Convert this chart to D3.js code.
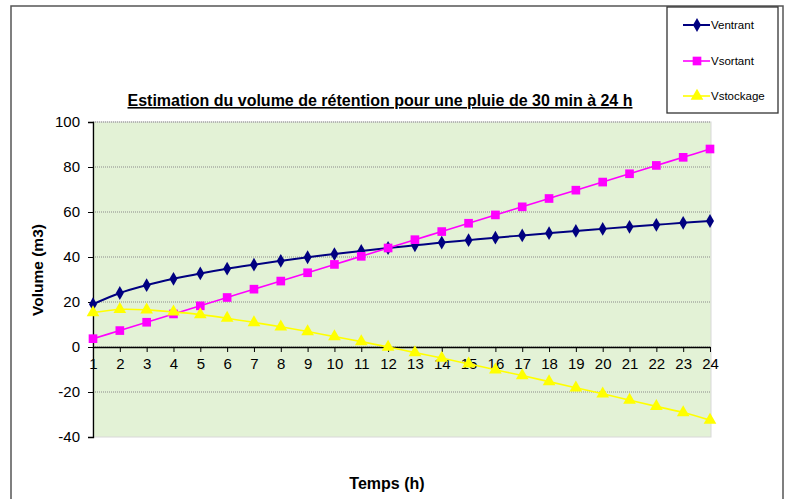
<!DOCTYPE html>
<html><head><meta charset="utf-8">
<script src="https://cdn.jsdelivr.net/npm/d3@7"></script>
<style>body{margin:0;background:#fff}svg{display:block;font-family:Arial,"Liberation Sans",sans-serif}</style>
</head><body><svg id="c" width="787" height="499"></svg>
<script>
const hours = d3.range(1, 25);
const ventrant = [19, 24, 27.5, 30.3, 32.7, 34.8, 36.6, 38.3, 39.9, 41.3, 42.7, 44, 45.2, 46.4, 47.5, 48.6, 49.6, 50.6, 51.6, 52.5, 53.4, 54.3, 55.2, 56];
const vsortant = [3.7, 7.3, 11, 14.7, 18.3, 22, 25.7, 29.3, 33, 36.7, 40.3, 44, 47.7, 51.3, 55, 58.7, 62.3, 66, 69.7, 73.3, 77, 80.7, 84.3, 88];
const vstockage = [15.3, 16.7, 16.5, 15.6, 14.4, 12.8, 10.9, 9, 6.9, 4.6, 2.4, 0, -2.5, -4.9, -7.5, -10.1, -12.7, -15.4, -18.1, -20.8, -23.6, -26.4, -29.1, -32.5];
const yTicks = [-40, -20, 0, 20, 40, 60, 80, 100];
const seriesNames = ["Ventrant", "Vsortant", "Vstockage"];
const seriesColors = ["#000080", "#FF00FF", "#FFFF00"];
const seriesData = [ventrant, vsortant, vstockage];

const svg = d3.select("#c");
const L = 93, R = 710, T = 122, B = 437;
const x = d3.scaleLinear().domain([1, 24]).range([L, R]);
const y = d3.scaleLinear().domain([-40, 100]).range([B, T]);

// outer frame
svg.append("rect").attr("x", 11).attr("y", 6).attr("width", 772).attr("height", 510)
  .attr("fill", "none").attr("stroke", "#555").attr("stroke-width", 1.5);

// plot background
svg.append("rect").attr("x", L).attr("y", T).attr("width", R - L + 1).attr("height", B - T)
  .attr("fill", "#E3F2D6").attr("stroke", "#d8d8d8").attr("stroke-width", 1);

// gridlines
svg.append("g").selectAll("line").data(yTicks.filter(d => d !== -40)).join("line")
  .attr("x1", L).attr("x2", R + 1).attr("y1", d => y(d)).attr("y2", d => y(d))
  .attr("stroke", "#8a8a8a").attr("stroke-width", 1).attr("stroke-dasharray", "1,1");

// y axis
const yAxis = svg.append("g").attr("transform", `translate(${L},0)`)
  .call(d3.axisLeft(y).tickValues(yTicks).tickSize(5).tickPadding(8).tickFormat(d => String(d)));
yAxis.select(".domain").attr("stroke", "#000").attr("stroke-width", 1.3);
yAxis.selectAll("line").attr("stroke", "#000");
yAxis.selectAll("text").attr("font-size", "15px").attr("fill", "#000").attr("font-family", "Arial, 'Liberation Sans', sans-serif");

// x axis at y=0
const xAxis = svg.append("g").attr("transform", `translate(0,${y(0)})`)
  .call(d3.axisBottom(x).tickValues(hours).tickSize(5).tickSizeOuter(0).tickPadding(6).tickFormat(d => String(d)));
xAxis.select(".domain").attr("stroke", "#000").attr("stroke-width", 1.3);
xAxis.selectAll("line").attr("stroke", "#000");
xAxis.selectAll("text").attr("font-size", "15px").attr("fill", "#000").attr("font-family", "Arial, 'Liberation Sans', sans-serif");

// lines
const line = d3.line().x((d, i) => x(hours[i])).y(d => y(d)).curve(d3.curveCatmullRom.alpha(0.5));
const markers = [
  d3.symbol().type(d3.symbolDiamond).size(55),
  d3.symbol().type(d3.symbolSquare).size(75),
  d3.symbol().type(d3.symbolTriangle).size(70)
];
seriesData.forEach((data, s) => {
  svg.append("path").datum(data).attr("d", line).attr("fill", "none")
    .attr("stroke", seriesColors[s]).attr("stroke-width", s === 0 ? 2 : 1.6);
  svg.append("g").selectAll("path").data(data).join("path")
    .attr("transform", (d, i) => `translate(${x(hours[i])},${y(d)})`)
    .attr("d", markers[s]).attr("fill", seriesColors[s]);
});

// title
svg.append("text").attr("x", 380).attr("y", 106).attr("text-anchor", "middle")
  .attr("font-size", "16px").attr("font-weight", "bold").attr("text-decoration", "underline")
  .text("Estimation du volume de rétention pour une pluie de 30 min à 24 h");

// axis titles
svg.append("text").attr("x", 387).attr("y", 489).attr("text-anchor", "middle")
  .attr("font-size", "16px").attr("font-weight", "bold").text("Temps (h)");
svg.append("text").attr("transform", "translate(43,270) rotate(-90)").attr("text-anchor", "middle")
  .attr("font-size", "15.5px").attr("font-weight", "bold").text("Volume (m3)");

// legend
svg.append("rect").attr("x", 667).attr("y", 7).attr("width", 111).attr("height", 106)
  .attr("fill", "#fff").attr("stroke", "#333").attr("stroke-width", 1.3);
const legY = [25, 61, 96];
seriesNames.forEach((n, s) => {
  const g = svg.append("g");
  g.append("line").attr("x1", 683).attr("x2", 710).attr("y1", legY[s]).attr("y2", legY[s])
    .attr("stroke", seriesColors[s]).attr("stroke-width", s === 0 ? 2 : 1.6);
  g.append("path").attr("transform", `translate(697,${legY[s]})`).attr("d", markers[s]).attr("fill", seriesColors[s]);
  g.append("text").attr("x", 711).attr("y", legY[s] + 4).attr("font-size", "11.5px").text(n);
});
</script></body></html>
